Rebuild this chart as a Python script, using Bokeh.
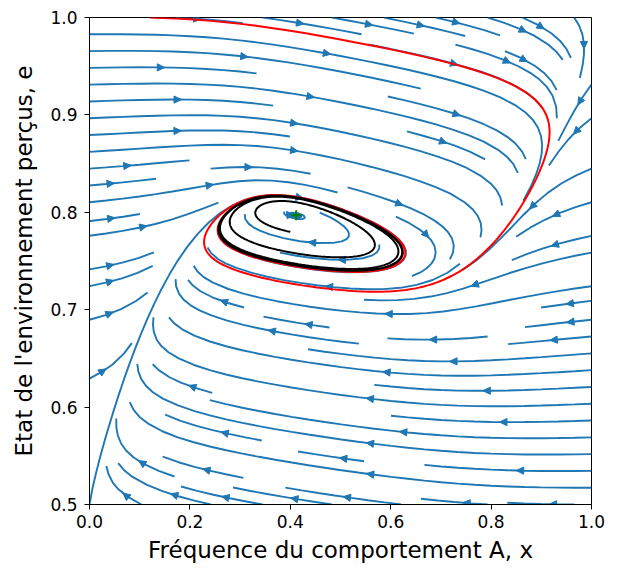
import math
import numpy as np
from bokeh.plotting import figure
from bokeh.models import Range1d, FixedTicker, NumeralTickFormatter
from bokeh.embed import file_html
from bokeh.resources import INLINE

# ---------------- values ----------------
x_ticks = [0.0, 0.2, 0.4, 0.6, 0.8, 1.0]
e_ticks = [0.5, 0.6, 0.7, 0.8, 0.9, 1.0]
x_title = "Fréquence du comportement A, x"
e_title = "Etat de l'environnement perçus, e"

# points where the streamlines turn vertical (dx/dt = 0)
xnull_x = [0.0, 0.052, 0.088, 0.135, 0.175, 0.221, 0.257, 0.33, 0.417, 0.52,
           0.624, 0.709, 0.76, 0.812, 0.842, 0.872, 0.909, 0.94, 0.975, 1.0]
xnull_e = [0.49, 0.588, 0.63, 0.694, 0.732, 0.768, 0.789, 0.80, 0.792, 0.775,
           0.758, 0.759, 0.78, 0.80, 0.815, 0.842, 0.873, 0.90, 0.955, 0.99]
# points where the streamlines turn horizontal (de/dt = 0)
enull_x = [0.05, 0.165, 0.317, 0.417, 0.625, 0.78, 0.96]
enull_e = [0.985, 0.918, 0.834, 0.792, 0.684, 0.632, 0.52]

cycle_left = 0.257          # left edge of the limit cycle
red_start = [0.12, 1.00]    # start of the red trajectory
black_start = [0.40, 0.78]  # start of the black trajectory

# ---------------- vector field built from those readings ----------------
gc = [float(c) for c in np.polyfit(xnull_x, xnull_e, 5)]
fc = [float(c) for c in np.polyfit(enull_x, enull_e, 1)]
R = 1.0


def g(x):
    r = 0.0
    for c in gc:
        r = r * x + c
    return r


def gprime(x):
    n = len(gc) - 1
    r = 0.0
    for i, c in enumerate(gc[:-1]):
        r = r * x + c * (n - i)
    return r


def f(x):
    return fc[0] * x + fc[1]


# fixed point
lo, hi = 0.25, 0.65
for _ in range(60):
    mid = 0.5 * (lo + hi)
    if (g(lo) - f(lo)) * (g(mid) - f(mid)) <= 0:
        hi = mid
    else:
        lo = mid
xs_fp = 0.5 * (lo + hi)
es_fp = f(xs_fp)
gp_fp = gprime(xs_fp)

# choose time-scale ratio K so that the limit cycle reaches cycle_left
Kh = R / (-gp_fp) if gp_fp < 0 else 5.0
Kh = min(Kh, 150.0)
Ks = np.geomspace(Kh * 1.03, 200.0, 100)
gca = np.array(gc)
X = np.full(Ks.shape, black_start[0])
E = np.full(Ks.shape, black_start[1])
dt = 0.003
nsteps = 20000
xmin = np.full(Ks.shape, np.inf)


def vfa(X, E):
    return Ks * (E - np.polyval(gca, X)), R * (fc[0] * X + fc[1] - E)


with np.errstate(all="ignore"):
    for i in range(nsteps):
        a1, b1 = vfa(X, E)
        a2, b2 = vfa(X + 0.5 * dt * a1, E + 0.5 * dt * b1)
        a3, b3 = vfa(X + 0.5 * dt * a2, E + 0.5 * dt * b2)
        a4, b4 = vfa(X + dt * a3, E + dt * b3)
        X = np.clip(X + dt / 6 * (a1 + 2 * a2 + 2 * a3 + a4), -0.3, 1.3)
        E = np.clip(E + dt / 6 * (b1 + 2 * b2 + 2 * b3 + b4), 0.0, 1.5)
        if i > 15000:
            xmin = np.minimum(xmin, X)

idx = np.where(np.isfinite(xmin) & (xmin <= cycle_left))[0]
if len(idx) and idx[0] > 0:
    i = idx[0]
    x0_, x1_ = xmin[i - 1], xmin[i]
    t = (cycle_left - x0_) / (x1_ - x0_) if x1_ != x0_ else 0.0
    K = math.exp(math.log(Ks[i - 1]) + t * (math.log(Ks[i]) - math.log(Ks[i - 1])))
elif len(idx):
    K = float(Ks[idx[0]])
else:
    K = float(Ks[int(np.nanargmin(np.abs(xmin - cycle_left)))])


def field(x, e):
    return K * (e - g(x)), R * (f(x) - e)


def trajectory(x, e, T, h=0.003, keep=4):
    px, pe = [x], [e]
    n = int(T / h)
    for i in range(n):
        a1, b1 = field(x, e)
        a2, b2 = field(x + 0.5 * h * a1, e + 0.5 * h * b1)
        a3, b3 = field(x + 0.5 * h * a2, e + 0.5 * h * b2)
        a4, b4 = field(x + h * a3, e + h * b3)
        x += h / 6 * (a1 + 2 * a2 + 2 * a3 + a4)
        e += h / 6 * (b1 + 2 * b2 + 2 * b3 + b4)
        if i % keep == 0:
            px.append(x)
            pe.append(e)
    return px, pe


red_x, red_e = trajectory(red_start[0], red_start[1], 40.0)
blk_x, blk_e = trajectory(black_start[0], black_start[1], 40.0)

# ---------------- streamplot (same algorithm as matplotlib) ----------------
NM = 30


class OutOfBounds(Exception):
    pass


class Terminate(Exception):
    pass


class InvalidIndex(Exception):
    pass


mask = [[0] * NM for _ in range(NM)]
state = {"cur": None, "traj": []}


def grid2mask(Xa, Ya):
    return int(round(Xa * (NM - 1))), int(round(Ya * (NM - 1)))


def mask_update(xm, ym):
    if state["cur"] != (xm, ym):
        if mask[ym][xm] == 0:
            state["traj"].append((ym, xm))
            mask[ym][xm] = 1
            state["cur"] = (xm, ym)
        else:
            raise InvalidIndex


def within(Xa, Ya):
    return 0 <= Xa <= 1 and 0 <= Ya <= 1


def fwd(Xa, Ya):
    if not within(Xa, Ya):
        raise OutOfBounds
    e = 0.5 + 0.5 * Ya
    u, v = field(Xa, e)
    v = v / 0.5
    s = math.hypot(u, v)
    if s == 0:
        raise Terminate
    return u / s, v / s


def bwd(Xa, Ya):
    a, b = fwd(Xa, Ya)
    return -a, -b


def euler_step(traj, fn):
    xi, yi = traj[-1]
    cx, cy = fn(xi, yi)
    if cx == 0:
        dsx = math.inf
    elif cx < 0:
        dsx = xi / -cx
    else:
        dsx = (1 - xi) / cx
    if cy == 0:
        dsy = math.inf
    elif cy < 0:
        dsy = yi / -cy
    else:
        dsy = (1 - yi) / cy
    ds = min(dsx, dsy)
    traj.append((xi + cx * ds, yi + cy * ds))
    return ds, traj


def rk12(x0, y0, fn, maxlength=4.0):
    maxerror = 0.003
    maxds = 1.0 / NM
    ds = maxds
    stotal = 0.0
    xi, yi = x0, y0
    traj = []
    while True:
        try:
            if within(xi, yi):
                traj.append((xi, yi))
            else:
                raise OutOfBounds
            k1x, k1y = fn(xi, yi)
            k2x, k2y = fn(xi + ds * k1x, yi + ds * k1y)
        except OutOfBounds:
            if traj:
                d, traj = euler_step(traj, fn)
                stotal += d
            break
        except Terminate:
            break
        dx1, dy1 = ds * k1x, ds * k1y
        dx2, dy2 = ds * 0.5 * (k1x + k2x), ds * 0.5 * (k1y + k2y)
        error = math.hypot(dx2 - dx1, dy2 - dy1)
        if error < maxerror:
            xi += dx2
            yi += dy2
            try:
                if not within(xi, yi):
                    raise InvalidIndex
                mask_update(*grid2mask(xi, yi))
            except InvalidIndex:
                break
            if stotal + ds > maxlength:
                break
            stotal += ds
        if error == 0:
            ds = maxds
        else:
            ds = min(maxds, 0.85 * ds * (maxerror / error) ** 0.5)
    return stotal, traj


def integrate(x0, y0):
    state["traj"] = []
    try:
        mask_update(*grid2mask(x0, y0))
    except InvalidIndex:
        return None
    stotal = 0.0
    s, t = rk12(x0, y0, bwd)
    stotal += s
    xy = t[::-1]
    state["cur"] = grid2mask(x0, y0)
    s, t = rk12(x0, y0, fwd)
    stotal += s
    xy += t[1:]
    if stotal > 0.1:
        return xy
    for (ym, xm) in state["traj"]:
        mask[ym][xm] = 0
    return None


def starting_points(n):
    xfirst, yfirst, xlast, ylast = 0, 1, n - 1, n - 1
    x, y = 0, 0
    direction = "right"
    for _ in range(n * n):
        yield x, y
        if direction == "right":
            x += 1
            if x >= xlast:
                xlast -= 1
                direction = "up"
        elif direction == "up":
            y += 1
            if y >= ylast:
                ylast -= 1
                direction = "left"
        elif direction == "left":
            x -= 1
            if x <= xfirst:
                xfirst += 1
                direction = "down"
        elif direction == "down":
            y -= 1
            if y <= yfirst:
                yfirst += 1
                direction = "right"


stream_xs, stream_es = [], []
for xm, ym in starting_points(NM):
    if mask[ym][xm] == 0:
        tr = integrate(xm / (NM - 1), ym / (NM - 1))
        if tr is not None:
            stream_xs.append([p[0] for p in tr])
            stream_es.append([0.5 + 0.5 * p[1] for p in tr])

# arrows halfway along each streamline
FW, FH = 502, 487
SX = FW / 1.0
SY = FH / 0.5
AL, AW = 7.5, 3.6
arrow_xs, arrow_es = [], []
for tx, te in zip(stream_xs, stream_es):
    tx = np.array(tx)
    te = np.array(te)
    s = np.cumsum(np.hypot(np.diff(tx), np.diff(te)))
    n = int(np.searchsorted(s, s[-1] / 2.0))
    if n + 1 >= len(tx):
        continue
    hx, he = np.mean(tx[n:n + 2]), np.mean(te[n:n + 2])
    dxp, dyp = (hx - tx[n]) * SX, (he - te[n]) * SY
    L = math.hypot(dxp, dyp)
    if L == 0:
        continue
    ux, uy = dxp / L, dyp / L
    bx, by = hx * SX - AL * ux, he * SY - AL * uy
    arrow_xs.append([hx, (bx - AW * uy) / SX, (bx + AW * uy) / SX])
    arrow_es.append([he, (by + AW * ux) / SY, (by - AW * ux) / SY])

# ---------------- figure ----------------
p = figure(frame_width=FW, frame_height=FH,
           x_range=Range1d(0.0, 1.0), y_range=Range1d(0.5, 1.0),
           output_backend="svg", toolbar_location=None,
           min_border_left=89, min_border_right=21,
           min_border_top=17, min_border_bottom=59)
p.background_fill_color = "white"
p.border_fill_color = "white"
p.outline_line_color = "black"
p.outline_line_width = 1
p.xgrid.visible = False
p.ygrid.visible = False

for ax, ticks, title in ((p.xaxis[0], x_ticks, x_title), (p.yaxis[0], e_ticks, e_title)):
    ax.ticker = FixedTicker(ticks=ticks)
    ax.formatter = NumeralTickFormatter(format="0.0")
    ax.axis_label = title
    ax.axis_label_text_font = "DejaVu Sans"
    ax.axis_label_text_font_size = "23px"
    ax.axis_label_text_font_style = "normal"
    ax.axis_label_text_color = "black"
    ax.major_label_text_font = "DejaVu Sans"
    ax.major_label_text_font_size = "17px"
    ax.major_label_text_color = "black"
    ax.axis_line_color = "black"
    ax.major_tick_line_color = "black"
    ax.major_tick_out = 5
    ax.major_tick_in = 0
    ax.minor_tick_line_color = None
p.xaxis.major_label_standoff = 5
p.xaxis.axis_label_standoff = 6
p.yaxis.major_label_standoff = 7
p.yaxis.axis_label_standoff = 10

p.multi_line(stream_xs, stream_es, line_color="#1f77b4", line_width=1.9)
p.patches(arrow_xs, arrow_es, fill_color="#1f77b4", line_color="#1f77b4", line_width=1)
p.line(red_x, red_e, line_color="red", line_width=2)
p.line(blk_x, blk_e, line_color="black", line_width=2)
p.scatter([xs_fp], [es_fp], marker="cross", size=10, line_color="green", line_width=2)

open("out.html", "w").write(file_html(p, INLINE))
